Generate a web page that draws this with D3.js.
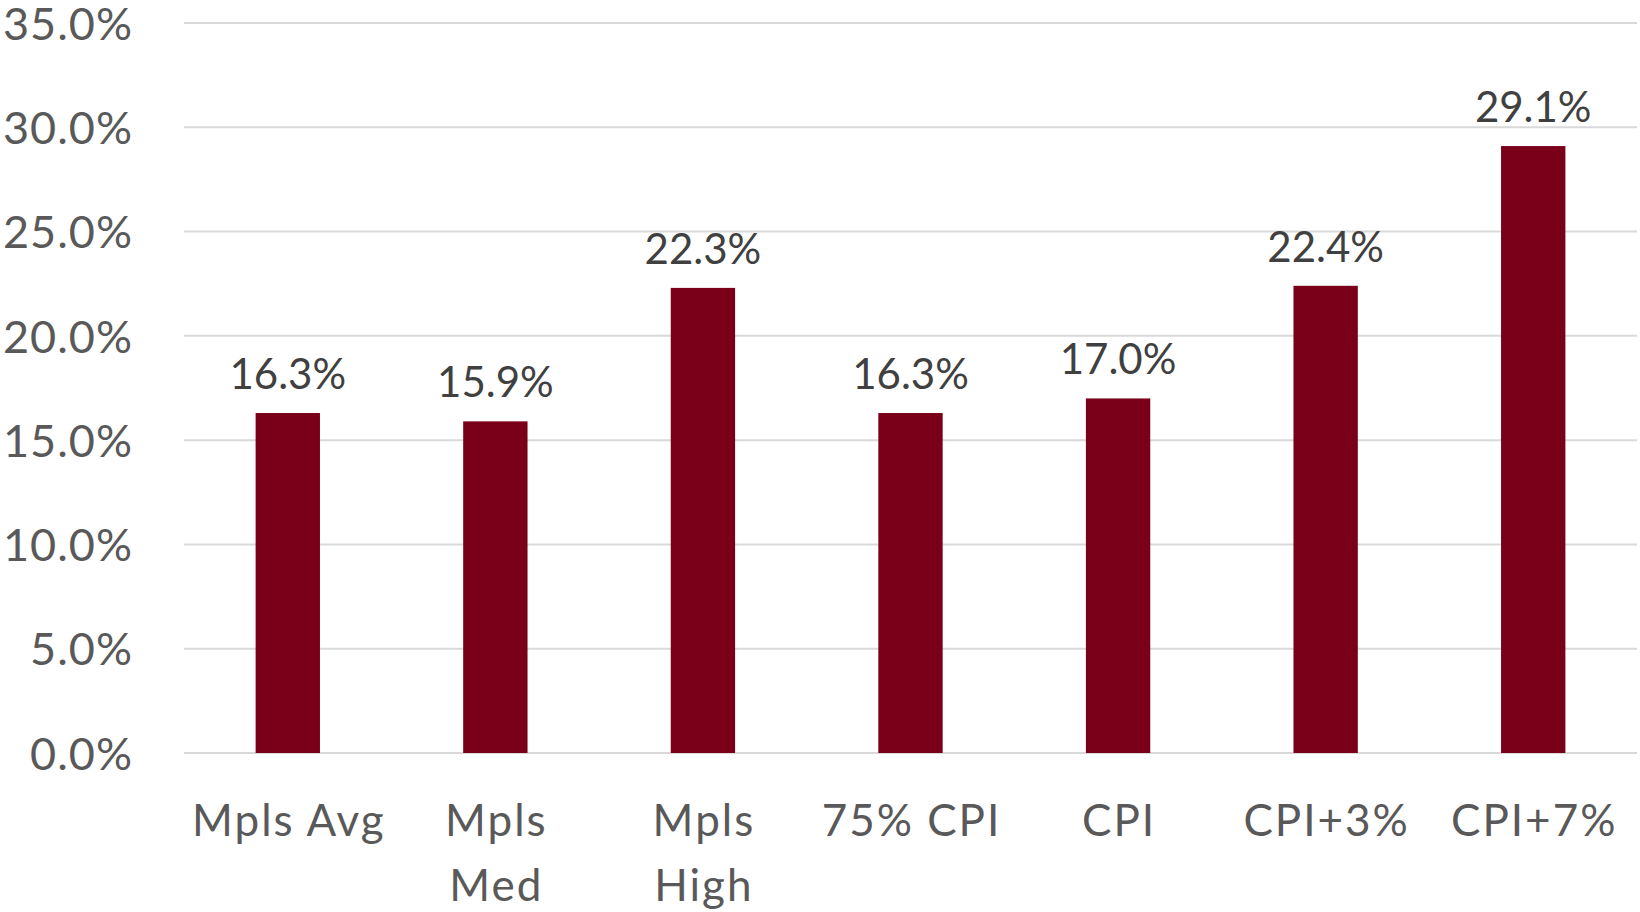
<!DOCTYPE html>
<html>
<head>
<meta charset="utf-8">
<script src="https://cdn.jsdelivr.net/npm/d3@7"></script>
<style>
  html, body { margin: 0; padding: 0; background: #ffffff; }
  svg { display: block; }
</style>
</head>
<body>
<svg id="chart" width="1640" height="912"></svg>
<script>
// Cumulative change by scenario
const categories = ["Mpls Avg", "Mpls Med", "Mpls High", "75% CPI", "CPI", "CPI+3%", "CPI+7%"];
const categoryLines = [["Mpls Avg"], ["Mpls", "Med"], ["Mpls", "High"], ["75% CPI"], ["CPI"], ["CPI+3%"], ["CPI+7%"]];
const values = [16.3, 15.9, 22.3, 16.3, 17.0, 22.4, 29.1];
const yTicks = [0, 5, 10, 15, 20, 25, 30, 35];

const W = 1640, H = 912;
const margin = { top: 23, right: 3, bottom: 159, left: 184 };
const font = "Lato, 'Open Sans', sans-serif";

const svg = d3.select("#chart");

const x = d3.scaleBand()
  .domain(categories)
  .range([margin.left, W - margin.right])
  .paddingInner(0.69)
  .paddingOuter(0.345);

const y = d3.scaleLinear()
  .domain([0, 35])
  .range([H - margin.bottom, margin.top]);

// horizontal gridlines
svg.append("g")
  .selectAll("line")
  .data(yTicks)
  .join("line")
  .attr("x1", margin.left)
  .attr("x2", W - margin.right)
  .attr("y1", d => y(d))
  .attr("y2", d => y(d))
  .attr("stroke", "#d9d9d9")
  .attr("stroke-width", 2);

// y axis labels
const yAxis = d3.axisLeft(y)
  .tickValues(yTicks)
  .tickFormat(d => d3.format(".1f")(d) + "%")
  .tickSize(0)
  .tickPadding(0);

const yg = svg.append("g")
  .attr("transform", `translate(${margin.left - 51},0)`)
  .call(yAxis);
yg.select(".domain").remove();
yg.selectAll("text")
  .attr("font-family", font)
  .attr("font-size", 45)
  .attr("letter-spacing", 1)
  .attr("fill", "#595959")
  .attr("dy", "0.36em");

// bars
svg.append("g")
  .selectAll("rect")
  .data(values)
  .join("rect")
  .attr("x", (d, i) => x(categories[i]))
  .attr("width", x.bandwidth())
  .attr("y", d => y(d))
  .attr("height", d => y(0) - y(d))
  .attr("fill", "#7a0019");

// value labels
svg.append("g")
  .selectAll("text")
  .data(values)
  .join("text")
  .attr("x", (d, i) => x(categories[i]) + x.bandwidth() / 2)
  .attr("y", d => y(d) - 24)
  .attr("text-anchor", "middle")
  .attr("font-family", font)
  .attr("font-size", 42)
  .attr("fill", "#404040")
  .text(d => d3.format(".1f")(d) + "%");

// category labels
const cat = svg.append("g")
  .selectAll("text")
  .data(categoryLines)
  .join("text")
  .attr("text-anchor", "middle")
  .attr("font-family", font)
  .attr("font-size", 44)
  .attr("letter-spacing", 2)
  .attr("fill", "#595959");

cat.selectAll("tspan")
  .data((lines, i) => lines.map(l => ({ l, i })))
  .join("tspan")
  .attr("x", d => x(categories[d.i]) + x.bandwidth() / 2 + 1)
  .attr("y", (d, j) => 836 + j * 64.7)
  .text(d => d.l);
</script>
</body>
</html>
